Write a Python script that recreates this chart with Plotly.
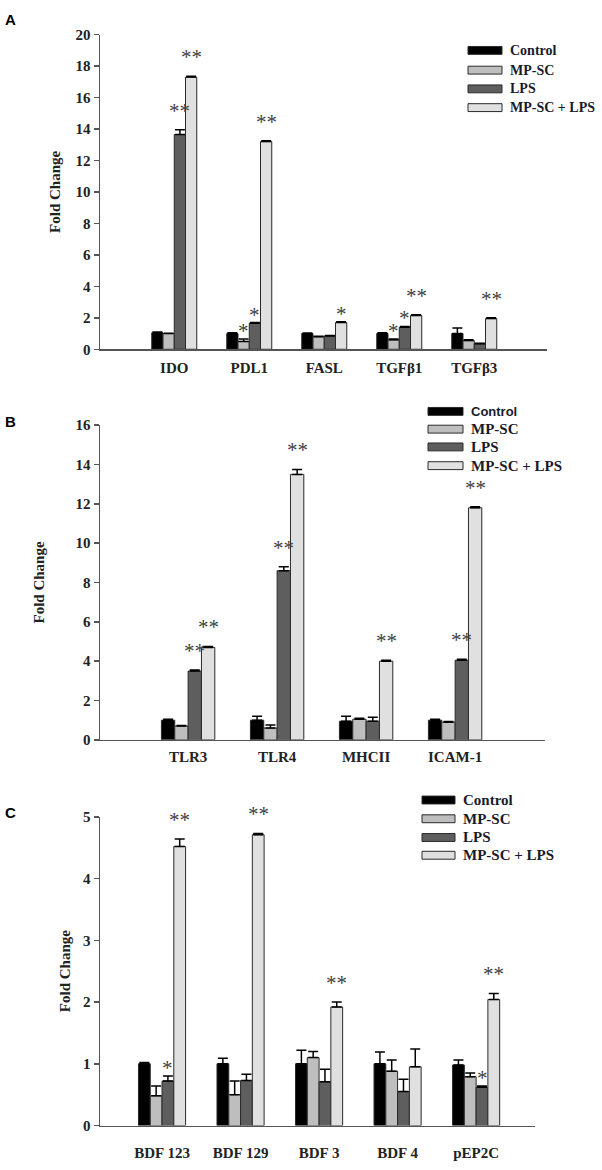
import plotly.graph_objects as go

# ---------------- data ----------------
series_names = ["Control", "MP-SC", "LPS", "MP-SC + LPS"]
series_colors = ["#000000", "#bebebe", "#5e5e5e", "#e0e0e0"]

# Panel A
cats_a = ["IDO", "PDL1", "FASL", "TGFβ1", "TGFβ3"]
vals_a = [
    [1.05, 1.0, 1.0, 1.0, 1.0],
    [1.0, 0.5, 0.8, 0.6, 0.55],
    [13.65, 1.65, 0.85, 1.4, 0.35],
    [17.3, 13.2, 1.7, 2.15, 1.95],
]
err_a = [
    [0.05, 0.05, 0.03, 0.05, 0.35],
    [0.02, 0.15, 0.03, 0.05, 0.05],
    [0.3, 0.05, 0.03, 0.05, 0.03],
    [0.05, 0.05, 0.05, 0.05, 0.05],
]
sig_a = [
    ["", "", "", "", ""],
    ["", "*", "", "*", ""],
    ["**", "*", "", "*", ""],
    ["**", "**", "*", "**", "**"],
]

# Panel B
cats_b = ["TLR3", "TLR4", "MHCII", "ICAM-1"]
vals_b = [
    [1.0, 1.0, 0.95, 1.0],
    [0.7, 0.6, 1.05, 0.9],
    [3.5, 8.6, 0.95, 4.05],
    [4.7, 13.5, 4.0, 11.8],
]
err_b = [
    [0.05, 0.2, 0.25, 0.05],
    [0.03, 0.15, 0.05, 0.03],
    [0.05, 0.2, 0.2, 0.05],
    [0.05, 0.25, 0.05, 0.05],
]
sig_b = [
    ["", "", "", ""],
    ["", "", "", ""],
    ["**", "**", "", "**"],
    ["**", "**", "**", "**"],
]

# Panel C
cats_c = ["BDF 123", "BDF 129", "BDF 3", "BDF 4", "pEP2C"]
vals_c = [
    [1.0, 1.0, 1.0, 1.0, 0.98],
    [0.48, 0.5, 1.1, 0.88, 0.79],
    [0.72, 0.73, 0.71, 0.55, 0.62],
    [4.52, 4.71, 1.92, 0.95, 2.04],
]
err_c = [
    [0.02, 0.09, 0.22, 0.19, 0.08],
    [0.16, 0.22, 0.1, 0.18, 0.06],
    [0.08, 0.1, 0.2, 0.2, 0.02],
    [0.12, 0.02, 0.08, 0.29, 0.1],
]
sig_c = [
    ["", "", "", "", ""],
    ["", "", "", "", ""],
    ["*", "", "", "", "*"],
    ["**", "**", "**", "", "**"],
]

# ---------------- layout geometry ----------------
W, H = 602, 1170
SERIF = "Liberation Serif, Times New Roman, serif"
SANS = "Liberation Sans, Arial, sans-serif"


def px_x(p):
    return p / W


def px_y(p):
    return 1 - p / H


panels = [
    dict(cats=cats_a, vals=vals_a, err=err_a, sig=sig_a, xr=[-0.99, 4.97], yr=[0, 20], dtick=2,
         xdom=[px_x(100), px_x(547)], ydom=[px_y(346), px_y(27)], letter="A", letter_y=12,
         title_x=55, label_standoff=4, leg_size=14,
         leg_x0=468, leg_x1=502, leg_tx=508, leg_rows=[43, 63, 82, 101]),
    dict(cats=cats_b, vals=vals_b, err=err_b, sig=sig_b, xr=[-0.99, 4.01], yr=[0, 16], dtick=2,
         xdom=[px_x(100), px_x(545)], ydom=[px_y(742), px_y(423)], letter="B", letter_y=419,
         title_x=39, label_standoff=3, leg_size=15,
         leg_x0=428, leg_x1=463, leg_tx=469, leg_rows=[409, 427, 445, 464]),
    dict(cats=cats_c, vals=vals_c, err=err_c, sig=sig_c, xr=[-0.79, 4.75], yr=[0, 5], dtick=1,
         xdom=[px_x(100), px_x(535)], ydom=[px_y(1133), px_y(820)], letter="C", letter_y=816,
         title_x=65, label_standoff=13, leg_size=15,
         leg_x0=422, leg_x1=455, leg_tx=461, leg_rows=[803, 822, 841, 859]),
]

fig = go.Figure()
annotations = []
shapes = []
offsets = [-0.225, -0.075, 0.075, 0.225]

for pi, p in enumerate(panels):
    ax = "" if pi == 0 else str(pi + 1)
    xs = list(range(len(p["cats"])))
    for si in range(4):
        fig.add_trace(go.Bar(
            x=xs, y=p["vals"][si], name=series_names[si],
            marker=dict(color=series_colors[si], line=dict(color="#2a2a2a", width=1)),
            error_y=dict(type="data", symmetric=False, array=p["err"][si],
                         arrayminus=[0] * len(xs), color="#000000", thickness=1.5, width=5),
            xaxis="x" + ax, yaxis="y" + ax, showlegend=False,
        ))
        for ci, s in enumerate(p["sig"][si]):
            if s:
                annotations.append(dict(
                    x=ci + offsets[si], y=p["vals"][si][ci] + p["err"][si][ci],
                    xref="x" + ax, yref="y" + ax, text=s, showarrow=False,
                    yanchor="bottom", yshift=(6 if s == "**" else -5), borderpad=0,
                    font=dict(family=SERIF, size=21, color="#404040"),
                ))
    fig.update_layout(**{
        "xaxis" + ax: dict(domain=p["xdom"], range=p["xr"], tickmode="array", tickvals=xs,
                           ticktext=p["cats"], showline=True, linecolor="#555555", linewidth=1.5,
                           ticks="", showgrid=False, zeroline=False, anchor="y" + ax,
                           ticklabelstandoff=p["label_standoff"],
                           tickfont=dict(family=SERIF, size=15, color="#222222", weight="bold"),
                           fixedrange=True),
        "yaxis" + ax: dict(domain=p["ydom"], range=p["yr"], dtick=p["dtick"], showline=True,
                           linecolor="#555555", linewidth=1.5, ticks="outside", ticklen=5,
                           tickcolor="#555555", tickwidth=1.5, showgrid=False, zeroline=False,
                           anchor="x" + ax,
                           tickfont=dict(family=SERIF, size=15, color="#222222", weight="bold"),
                           fixedrange=True),
    })
    # axis title
    annotations.append(dict(
        x=px_x(p["title_x"]), y=(p["ydom"][0] + p["ydom"][1]) / 2, xref="paper", yref="paper",
        text="<b>Fold Change</b>", textangle=-90, showarrow=False,
        font=dict(family=SERIF, size=15, color="#222222"), xanchor="center", yanchor="middle"))
    # panel letter
    annotations.append(dict(
        x=px_x(3), y=px_y(p["letter_y"]), xref="paper", yref="paper", text="<b>%s</b>" % p["letter"],
        showarrow=False, xanchor="left", yanchor="middle",
        font=dict(family=SANS, size=15, color="#000000")))
    # legend (swatches + labels)
    for si in range(4):
        ry = p["leg_rows"][si]
        shapes.append(dict(type="rect", xref="paper", yref="paper",
                           x0=px_x(p["leg_x0"]), x1=px_x(p["leg_x1"]),
                           y0=px_y(ry + 4), y1=px_y(ry - 4),
                           fillcolor=series_colors[si], line=dict(color="#2a2a2a", width=1)))
        label = "<b>%s</b>" % series_names[si]
        fam = SERIF
        size = p["leg_size"]
        if pi == 1 and si == 0:
            fam = SANS
            size = 13
        annotations.append(dict(
            x=px_x(p["leg_tx"]), y=px_y(ry), xref="paper", yref="paper", text=label,
            showarrow=False, xanchor="left", yanchor="middle",
            font=dict(family=fam, size=size, color="#1a1a2a")))

fig.update_layout(
    width=W, height=H, margin=dict(l=0, r=0, t=0, b=0),
    paper_bgcolor="white", plot_bgcolor="white",
    barmode="group", bargap=0.4, bargroupgap=0,
    annotations=annotations, shapes=shapes, showlegend=False,
)

fig.write_html("out.html", config={"displayModeBar": False, "staticPlot": True},
               post_script="document.body.style.margin='0';")
